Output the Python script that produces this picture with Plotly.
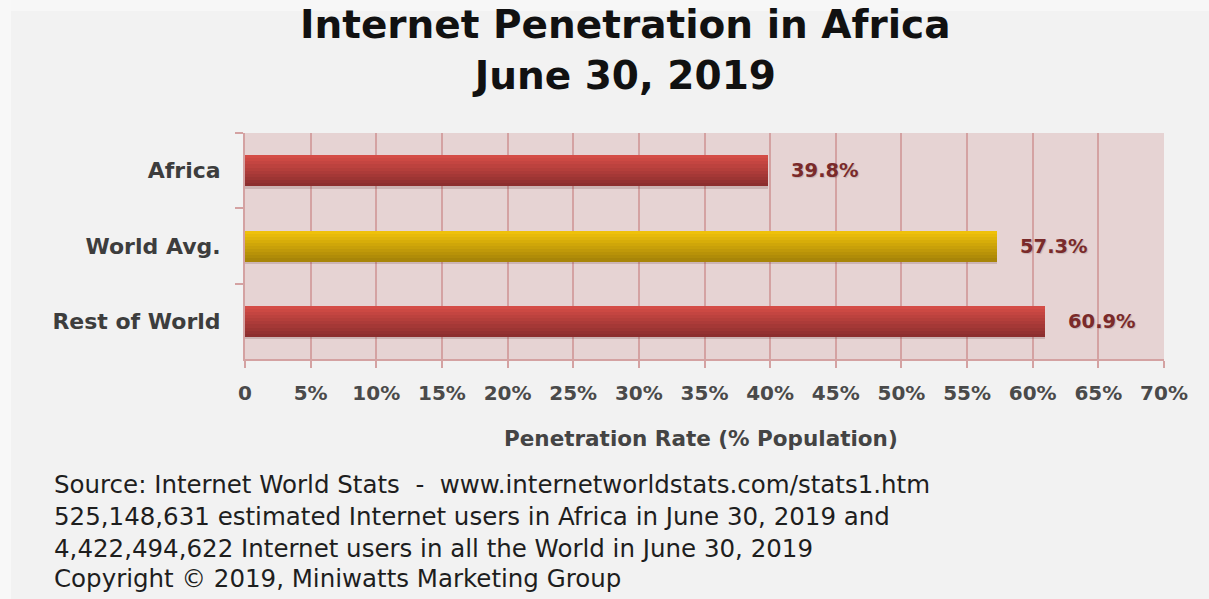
import plotly.graph_objects as go

categories = ["Africa", "World Avg.", "Rest of World"]
values = [39.8, 57.3, 60.9]
bar_kind = ["red", "gold", "red"]
tick_vals = [0, 5, 10, 15, 20, 25, 30, 35, 40, 45, 50, 55, 60, 65, 70]
tick_text = ["0"] + [f"{v}%" for v in tick_vals[1:]]
title_lines = ["Internet Penetration in Africa", "June 30, 2019"]
axis_title = "Penetration Rate (% Population)"
source_lines = [
    "Source: Internet World Stats  -  www.internetworldstats.com/stats1.htm",
    "525,148,631 estimated Internet users in Africa in June 30, 2019 and",
    "4,422,494,622 Internet users in all the World in June 30, 2019",
    "Copyright \u00a9 2019, Miniwatts Marketing Group",
]

# layout geometry (pixels)
FW, FH = 1209, 599
L, R, T, B = 245, 45, 133, 240
PW, PH = FW - L - R, FH - T - B

def px_x(px):
    return (px - L) / PW

def px_y(py):
    return (FH - B - py) / PH

def lerp(c1, c2, t):
    a = [int(c1[i:i + 2], 16) for i in (1, 3, 5)]
    b = [int(c2[i:i + 2], 16) for i in (1, 3, 5)]
    return "#" + "".join(f"{round(a[k] + (b[k] - a[k]) * t):02x}" for k in range(3))

grad = {"red": ("#d44c46", "#8c2e2e"), "gold": ("#efc10a", "#a88508")}

fig = go.Figure()

BAR_W = 0.41
N = 10
# soft shadow
fig.add_trace(go.Bar(
    x=values, y=categories, orientation="h", width=BAR_W, offset=-BAR_W / 2 + 0.035,
    marker=dict(color="rgba(90,40,40,0.18)", line=dict(width=0)), hoverinfo="skip", showlegend=False,
))
for i in range(N):
    t = i / (N - 1)
    cols = [lerp(grad[k][0], grad[k][1], t) for k in bar_kind]
    fig.add_trace(go.Bar(
        x=values, y=categories, orientation="h",
        width=BAR_W / N + 0.002, offset=-BAR_W / 2 + i * BAR_W / N,
        marker=dict(color=cols, line=dict(width=0)),
        hoverinfo="skip", showlegend=False,
    ))

SANS = "DejaVu Sans"
annotations = []
for c, v in zip(categories, values):
    annotations.append(dict(
        x=v, y=c, xref="x", yref="y", text=f"{v}%", showarrow=False,
        xanchor="left", xshift=21,
        font=dict(family=SANS, size=19.5, color="#7a2a2a", weight="bold",
                  shadow="1px 1px 1px rgba(0,0,0,0.15)"),
    ))

annotations.append(dict(
    x=px_x(625), y=px_y(50), xref="paper", yref="paper", text="<br>".join(title_lines),
    showarrow=False, xanchor="center", yanchor="middle", align="center",
    font=dict(family=SANS, size=39, color="#111111", weight="bold"),
))

annotations.append(dict(
    x=px_x(701), y=px_y(438), xref="paper", yref="paper", text=axis_title, showarrow=False,
    xanchor="center", yanchor="middle",
    font=dict(family=SANS, size=21.5, color="#444444", weight="bold"),
))

src_y = [484, 516, 548, 578]
for line, py in zip(source_lines, src_y):
    annotations.append(dict(
        x=px_x(52), y=px_y(py), xref="paper", yref="paper", text=line, showarrow=False,
        xanchor="left", yanchor="middle",
        font=dict(family=SANS, size=24.5, color="#1e1e1e"),
    ))

shapes = [
    # outer white frame at top/left
    dict(type="rect", xref="paper", yref="paper", x0=px_x(0), x1=px_x(FW), y0=px_y(11), y1=px_y(0),
         fillcolor="#f7f7f7", line=dict(width=0), layer="below"),
    dict(type="rect", xref="paper", yref="paper", x0=px_x(0), x1=px_x(11), y0=px_y(FH), y1=px_y(0),
         fillcolor="#f8f8f8", line=dict(width=0), layer="below"),
]

grid_col = "#d4a2a2"
fig.update_layout(
    width=FW, height=FH,
    margin=dict(l=L, r=R, t=T, b=B, pad=0),
    paper_bgcolor="#f2f2f2",
    plot_bgcolor="#e6d3d3",
    barmode="overlay",
    bargap=0,
    showlegend=False,
    annotations=annotations,
    shapes=shapes,
    xaxis=dict(
        range=[0, 70], tickvals=tick_vals, ticktext=tick_text,
        showgrid=True, gridcolor=grid_col, gridwidth=2,
        showline=True, linecolor=grid_col, linewidth=2,
        ticks="outside", ticklen=7, tickcolor=grid_col, tickwidth=2,
        ticklabelstandoff=8,
        tickfont=dict(family=SANS, size=20, color="#4a4a4a", weight="bold"),
        zeroline=False, fixedrange=True,
    ),
    yaxis=dict(
        categoryorder="array", categoryarray=categories, autorange="reversed",
        showgrid=False, showline=True, linecolor=grid_col, linewidth=2,
        ticks="outside", ticklen=8, tickcolor=grid_col, tickwidth=2, tickson="boundaries",
        ticklabelstandoff=18,
        tickfont=dict(family=SANS, size=22, color="#3d3d3d", weight="bold"),
        fixedrange=True,
    ),
)

fig.write_html("out.html")
